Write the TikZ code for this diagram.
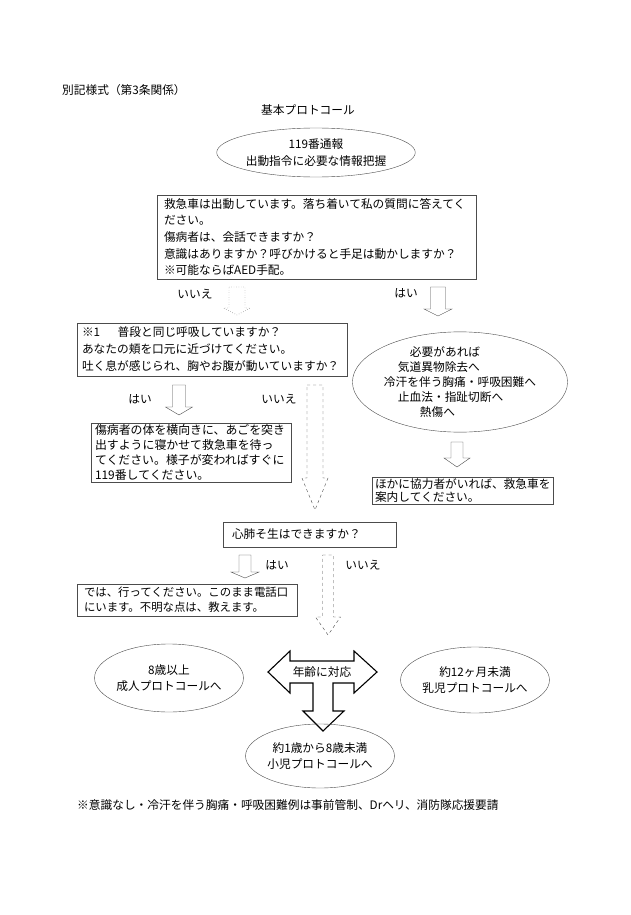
\documentclass[tikz,border=0pt]{standalone}
\usepackage{fontspec}
\setmainfont{Noto Sans CJK JP}
\usetikzlibrary{shapes.geometric}

\tikzset{
  tekst/.style={font=\fontsize{11.7}{16.7}\selectfont, inner sep=0pt},
  kader/.style={tekst, draw=black!70, rectangle, align=left},
  ovaal/.style={tekst, draw=black!70, ellipse, align=center},
  label/.style={tekst}
}

% blokpijl: [stijl]{x}{boven}{basis kop}{punt}{halve schacht}{halve kop}
\newcommand{\blokpijl}[7][]{%
  \draw[black!70, #1] ({#2-#6},#3) -- ({#2+#6},#3) -- ({#2+#6},#4) -- ({#2+#7},#4)
    -- (#2,#5) -- ({#2-#7},#4) -- ({#2-#6},#4) -- cycle;}

\begin{document}
\begin{tikzpicture}[x=1pt, y=-1pt]
    \fill[white] (0,0) rectangle (630,915);
    \useasboundingbox (0,0) rectangle (630,915);

    % Kop
    \node[label, anchor=west] (kop) at (62,90) {別記様式（第3条関係）};
    \node[label] (titel) at (308,110) {基本プロトコール};

    % Start
    \node[ovaal, minimum width=194pt, minimum height=49pt] (melding) at (316,152.5)
        {119番通報\\出動指令に必要な情報把握};

    \node[kader, text width=305pt, inner xsep=7pt, minimum height=84pt] (vraag) at (316.5,237)
        {救急車は出動しています。落ち着いて私の質問に答えてく\\ださい。\\傷病者は、会話できますか？\\意識はありますか？呼びかけると手足は動かしますか？\\※可能ならばAED手配。};

    \node[label] (nee1) at (195,294) {いいえ};
    \node[label] (ja1) at (406,293) {はい};
    \blokpijl[dotted, black!80]{237}{287}{308}{315}{8}{13.5}
    \blokpijl{438}{287}{309}{316}{7.5}{14}

    % Ademhaling
    \node[kader, text width=260pt, inner xsep=5pt, minimum height=53pt,
          font=\fontsize{11.7}{17}\selectfont] (adem) at (212,349.5)
        {※1\hspace{1.5em}普段と同じ呼吸していますか？\\あなたの頬を口元に近づけてください。\\吐く息が感じられ、胸やお腹が動いていますか？};

    \node[ovaal, align=left, minimum width=185pt, minimum height=100pt,
          font=\fontsize{11.7}{15}\selectfont] (nodig) at (460,382)
        {\hspace{26pt}必要があれば\\\hspace{14pt}気道異物除去へ\\冷汗を伴う胸痛・呼吸困難へ\\\hspace{14pt}止血法・指趾切断へ\\\hspace{36pt}熱傷へ};

    \node[label] (ja2) at (140,399) {はい};
    \node[label] (nee2) at (279,399) {いいえ};
    \blokpijl{179}{385}{407}{415}{6.5}{13.5}
    \blokpijl[dashed]{315}{385}{478}{510}{8}{13}
    \blokpijl{457}{442}{458}{467}{6}{13}

    \node[kader, text width=192pt, inner xsep=4pt, minimum height=59pt,
          font=\fontsize{11.9}{15}\selectfont] (zijligging) at (191,452.5)
        {傷病者の体を横向きに、あごを突き\\出すように寝かせて救急車を待っ\\てください。様子が変わればすぐに\\119番してください。};

    \node[kader, text width=175pt, inner xsep=3pt, minimum height=27pt,
          font=\fontsize{11.7}{13.5}\selectfont] (helper) at (462.5,490.5)
        {ほかに協力者がいれば、救急車を\\案内してください。};

    % Reanimatie
    \node[kader, text width=155pt, inner xsep=9pt, minimum height=25pt] (reani) at (309.5,534.5)
        {心肺そ生はできますか？};

    \node[label] (ja3) at (277,565) {はい};
    \node[label] (nee3) at (363,565) {いいえ};
    \blokpijl{245}{555}{572}{578}{6}{14}
    \blokpijl[dashed]{328}{555}{617}{635}{5.5}{12.5}

    \node[kader, text width=206pt, inner xsep=7pt, minimum height=32pt,
          font=\fontsize{11.4}{15}\selectfont] (gaan) at (187,600)
        {では、行ってください。このまま電話口\\にいます。不明な点は、教えます。};

    % Leeftijd
    \draw[black, line width=1.1pt] (268,672) -- (290,651) -- (290,661) -- (354,661) -- (354,651)
        -- (377,672) -- (354,693) -- (354,683) -- (333,683) -- (333,711) -- (344,711)
        -- (323,731) -- (303,711) -- (313,711) -- (313,683) -- (290,683) -- (290,693) -- cycle;
    \node[label] (leeftijd) at (322,672) {年齢に対応};

    \node[ovaal, minimum width=139pt, minimum height=68pt,
          font=\fontsize{11.7}{15.5}\selectfont] (volw) at (169,678)
        {8歳以上\\成人プロトコールへ};
    \node[ovaal, minimum width=136pt, minimum height=66pt,
          font=\fontsize{11.7}{15.5}\selectfont] (zuig) at (475,680)
        {約12ヶ月未満\\乳児プロトコールへ};
    \node[ovaal, minimum width=139pt, minimum height=64pt,
          font=\fontsize{11.7}{16.5}\selectfont] (kind) at (320,756)
        {約1歳から8歳未満\\小児プロトコールへ};

    % Voetnoot
    \node[label, anchor=west] (noot) at (77,805)
        {※意識なし・冷汗を伴う胸痛・呼吸困難例は事前管制、Drヘリ、消防隊応援要請};
\end{tikzpicture}
\end{document}
